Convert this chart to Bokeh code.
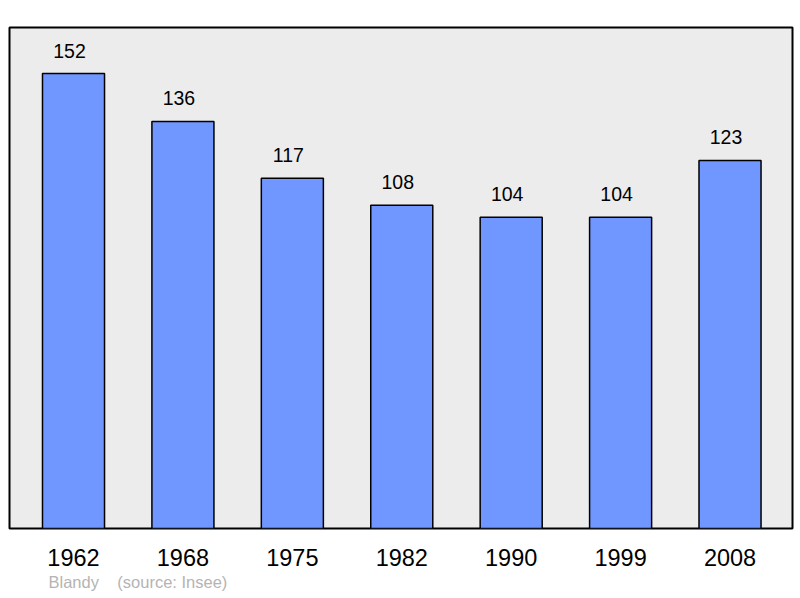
from bokeh.plotting import figure
from bokeh.models import ColumnDataSource, Range1d, FixedTicker, Title
from bokeh.core.properties import value
from bokeh.embed import file_html
from bokeh.resources import INLINE

years = ["1962", "1968", "1975", "1982", "1990", "1999", "2008"]
population = [152, 136, 117, 108, 104, 104, 123]
commune = "Blandy"
source_note = "(source: Insee)"

xs = list(range(len(years)))
src = ColumnDataSource(dict(x=xs, top=population, label=[str(v) for v in population]))

p = figure(frame_width=783, frame_height=501, output_backend="svg", toolbar_location=None,
           x_range=Range1d(-0.585, 6.571), y_range=Range1d(0, 167.4),
           min_border_left=9, min_border_right=2, min_border_top=27, min_border_bottom=4)

p.background_fill_color = "#ececec"
p.border_fill_color = "white"
p.outline_line_color = "black"
p.outline_line_width = 2
p.grid.visible = False
p.yaxis.visible = False

p.vbar(x="x", top="top", bottom=0, width=0.567, source=src,
       fill_color="#7096ff", line_color="black", line_width=1.5)

p.text(x="x", y="top", text="label", source=src, text_align="center",
       text_baseline="alphabetic", y_offset=-23, x_offset=-4,
       text_font=value("Liberation Sans"), text_font_size="19.5px", text_color="black")

ax = p.xaxis[0]
ax.ticker = FixedTicker(ticks=xs)
ax.major_label_overrides = {i: y for i, y in zip(xs, years)}
ax.axis_line_color = None
ax.major_tick_line_color = None
ax.minor_tick_line_color = None
ax.major_tick_out = 0
ax.major_tick_in = 0
ax.major_label_standoff = 20
ax.major_label_text_font = "Liberation Sans"
ax.major_label_text_font_size = "23.5px"
ax.major_label_text_color = "black"

t = Title(text=commune + "\u00a0" * 4 + source_note, align="left", offset=39,
          text_font="Liberation Sans", text_font_size="16.5px",
          text_font_style="normal", text_color="#b4b4b4", standoff=4)
p.add_layout(t, "below")

open("out.html", "w").write(file_html(p, INLINE))
